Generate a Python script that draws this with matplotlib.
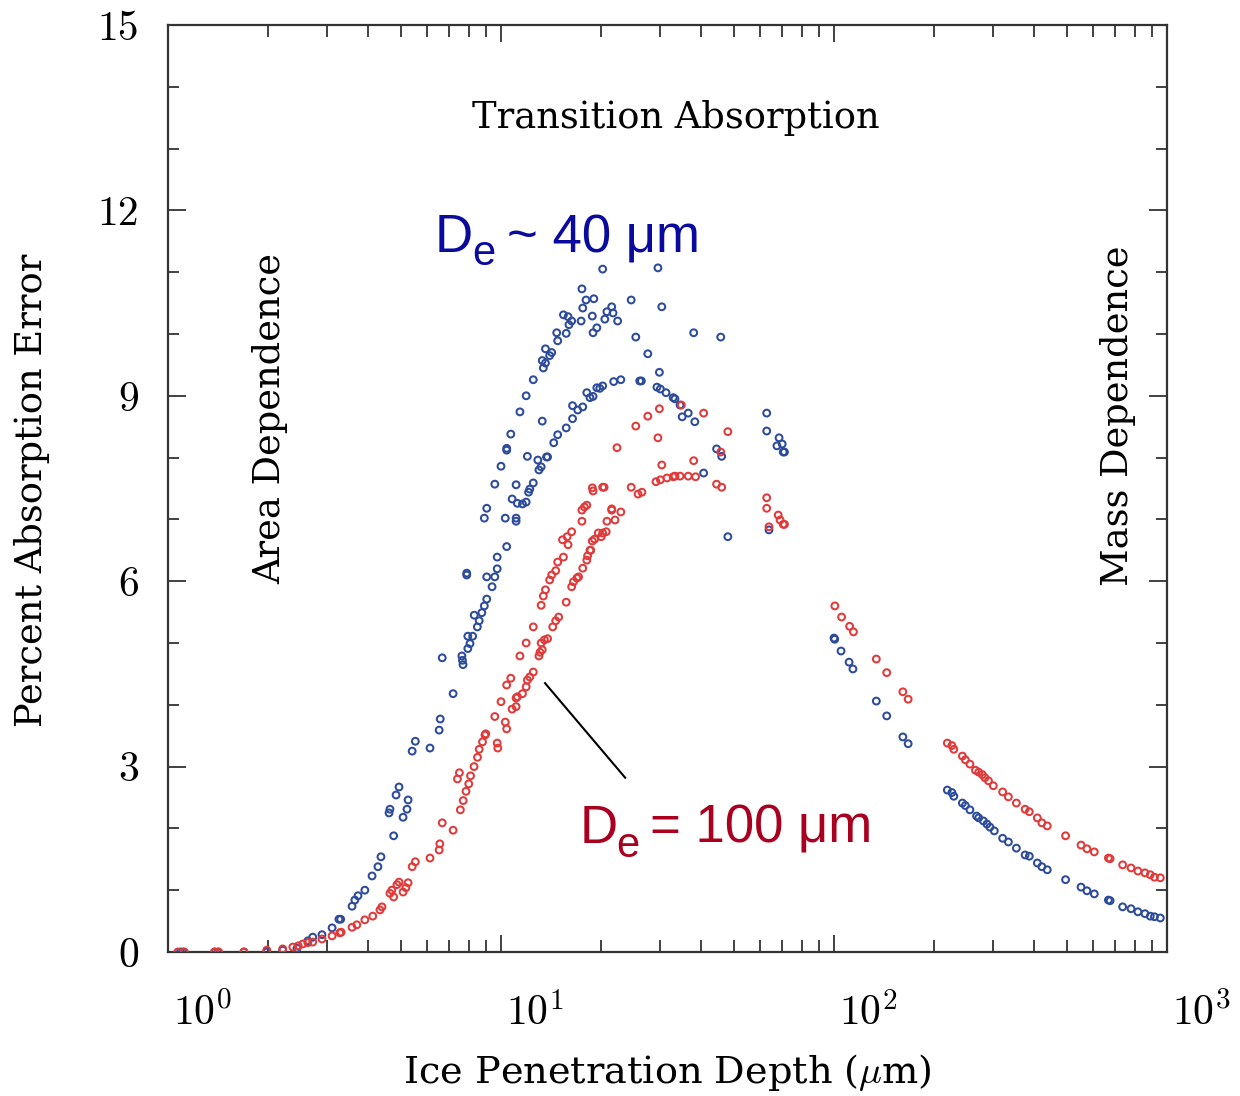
import matplotlib
matplotlib.use('Agg')
import matplotlib.pyplot as plt
import matplotlib.transforms as mtransforms
from matplotlib.ticker import FixedLocator, NullFormatter

plt.rcParams['mathtext.fontset'] = 'cm'

# D_e ~ 40 um (blue)
blue_x = [1.09, 1.11, 1.38, 1.41, 1.69, 1.98, 2.21, 2.44, 2.63, 2.72, 2.90, 3.11, 3.26, 3.30,
          3.57, 3.64, 3.72, 3.90, 4.10, 4.27, 4.36, 4.76, 4.61, 4.64, 4.84, 4.94, 5.08, 5.22,
          5.26, 5.41, 5.53, 6.12, 6.52, 6.57, 7.18, 6.66, 7.69, 7.66, 7.63, 7.95, 8.07, 7.95,
          8.22, 8.49, 8.60, 8.31, 8.76, 8.91, 9.06, 9.40, 9.06, 9.58, 9.74, 9.74, 7.89, 7.89,
          10.4, 8.91, 9.06, 10.3, 11.1, 11.1, 10.8, 11.2, 11.6, 11.9, 9.58, 11.1, 12.5, 12.1,
          12.2, 10.0, 12.0, 12.9, 13.2, 13.0, 13.7, 13.8, 10.4, 10.4, 10.7, 11.4, 11.9, 12.5,
          13.3, 13.4, 13.6, 13.3, 14.0, 14.2, 13.6, 14.8, 14.7, 15.7, 16.0, 16.3, 15.9, 15.4,
          17.4, 17.6, 18.0, 19.0, 17.5, 20.2, 18.8, 19.4, 18.9, 20.5, 20.8, 21.5, 21.7, 22.4,
          24.6, 25.4, 27.6, 29.6, 30.4, 37.9, 45.7,
          14.4, 14.8, 15.7, 16.4, 16.4, 17.0, 17.6, 18.1, 18.5, 18.9, 19.4, 19.8, 20.2, 21.8,
          22.9, 26.1, 26.4, 29.9, 29.4, 30.1, 31.3, 32.9, 33.3, 34.5, 35.0, 36.5, 38.2, 44.4,
          46.0, 40.6, 48.0,
          62.8, 62.8, 68.4, 69.9, 67.4, 70.4, 71.0, 63.8,
          100, 100.5, 105, 111, 114, 134, 144, 161, 167, 219, 226, 229, 243, 248, 256, 268,
          272, 281, 288, 294, 303, 321, 334, 353, 375, 386, 408, 421, 437, 496, 552, 575, 605,
          667, 675, 736, 780, 818, 859, 891, 917, 955]
blue_y = [0, 0, 0, 0, 0, 0, 0.03, 0.06, 0.18, 0.24, 0.28, 0.39, 0.53, 0.53,
          0.74, 0.84, 0.91, 1.0, 1.23, 1.38, 1.54, 1.88, 2.25, 2.31, 2.54, 2.67, 2.18, 2.31,
          2.46, 3.25, 3.41, 3.30, 3.59, 3.77, 4.18, 4.76, 4.65, 4.72, 4.79, 4.91, 4.99, 5.11,
          5.11, 5.26, 5.36, 5.45, 5.49, 5.60, 5.71, 5.91, 6.07, 6.07, 6.20, 6.39, 6.13, 6.10,
          6.56, 7.02, 7.18, 7.02, 6.97, 7.02, 7.33, 7.26, 7.25, 7.28, 7.57, 7.56, 7.59, 7.44,
          7.49, 7.86, 8.02, 7.96, 7.85, 7.80, 8.01, 8.01, 8.12, 8.15, 8.38, 8.74, 9.0, 9.26,
          8.59, 9.45, 9.53, 9.57, 9.65, 9.70, 9.76, 9.89, 10.02, 10.01, 10.15, 10.21, 10.28, 10.31,
          10.21, 10.42, 10.55, 10.57, 10.73, 11.05, 10.29, 10.10, 10.02, 10.24, 10.36, 10.44, 10.34, 10.21,
          10.55, 9.95, 9.68, 11.07, 10.44, 10.02, 9.95,
          8.24, 8.37, 8.48, 8.63, 8.84, 8.77, 8.82, 9.05, 8.97, 8.99, 9.13, 9.12, 9.16, 9.23,
          9.26, 9.24, 9.24, 9.38, 9.14, 9.11, 9.05, 8.97, 8.95, 8.85, 8.66, 8.72, 8.58, 8.14,
          8.02, 7.75, 6.72,
          8.72, 8.43, 8.32, 8.22, 8.19, 8.09, 8.09, 6.83,
          5.08, 5.06, 4.87, 4.69, 4.58, 4.06, 3.82, 3.48, 3.37, 2.62, 2.58, 2.52, 2.41, 2.37, 2.30, 2.20,
          2.17, 2.12, 2.07, 2.02, 1.96, 1.84, 1.78, 1.68, 1.57, 1.55, 1.44, 1.38, 1.33, 1.17, 1.05, 0.99, 0.94,
          0.84, 0.83, 0.73, 0.70, 0.65, 0.62, 0.58, 0.57, 0.55]

# D_e = 100 um (red)
red_x = [1.07, 1.12, 1.38, 1.42, 1.69, 1.98, 2.21, 2.37, 2.46, 2.54, 2.63, 2.72, 2.90, 3.11,
         3.28, 3.31, 3.57, 3.69, 3.90, 4.12, 4.33, 4.39, 4.64, 4.70, 4.76, 4.87, 4.94, 5.08,
         5.18, 5.26, 5.41, 5.53, 6.12, 6.52, 6.55, 6.66, 7.18, 7.55,
         7.7, 7.85, 8.0, 8.1, 7.4, 7.5, 8.3, 8.5, 8.6, 8.8,
         8.95, 9.0, 9.74, 9.78, 9.58, 10.0, 10.3, 10.4, 10.8, 11.1, 11.1, 11.2, 11.6, 11.9,
         12.0, 12.2, 12.5, 10.4, 10.7, 11.4, 11.9, 12.5, 13.0, 13.1, 13.3, 13.2, 13.5, 13.8,
         14.3, 14.6, 14.9, 15.7, 13.2, 13.4, 13.6, 14.0, 14.2, 14.6, 14.8, 15.4, 16.3, 16.5,
         16.9, 17.1, 17.6, 18.1, 18.2, 18.5, 18.8, 18.6, 19.1, 19.6, 20.0, 20.2, 20.7, 20.8,
         21.5, 22.0, 22.9, 15.3, 15.8, 15.9, 16.3, 17.5, 17.8, 18.1, 17.5, 18.8, 18.9, 20.4,
         20.2, 24.6, 25.8, 26.5, 21.5,
         22.3, 25.4, 27.6, 29.9, 29.6, 34.8, 40.6, 48.0, 45.7, 30.4, 37.9, 29.2, 30.1, 31.5,
         32.9, 33.3, 34.5, 36.5, 38.4, 44.4, 46.0,
         62.8, 62.8, 68.0, 68.9, 70.4, 71.0, 63.8,
         100.6, 105.4, 111.4, 114.4, 134, 144, 161, 167, 219, 226, 229, 243, 248, 256, 266,
         272, 279, 284, 291, 301, 321, 334, 353, 375, 386, 408, 421, 437, 496, 552, 575, 605,
         667, 675, 736, 780, 818, 859, 891, 917, 955]
red_y = [0, 0, 0, 0, 0, 0.03, 0.05, 0.08, 0.10, 0.13, 0.15, 0.16, 0.21, 0.26,
         0.31, 0.32, 0.40, 0.44, 0.52, 0.58, 0.68, 0.73, 0.95, 1.0, 0.89, 1.09, 1.13, 0.97,
         1.04, 1.12, 1.38, 1.46, 1.52, 1.65, 1.75, 2.09, 1.97, 2.30,
         2.45, 2.6, 2.72, 2.85, 2.80, 2.90, 3.0, 3.15, 3.28, 3.4,
         3.51, 3.53, 3.38, 3.30, 3.81, 4.05, 3.72, 3.61, 3.93, 3.97, 4.11, 4.13, 4.18, 4.29,
         4.40, 4.45, 4.53, 4.32, 4.43, 4.79, 5.0, 5.26, 4.79, 4.85, 4.89, 5.0, 5.05, 5.07,
         5.26, 5.36, 5.42, 5.66, 5.61, 5.76, 5.86, 6.02, 6.10, 6.17, 6.31, 6.39, 5.91, 5.99,
         6.05, 6.07, 6.21, 6.34, 6.41, 6.50, 6.65, 6.50, 6.68, 6.78, 6.72, 6.78, 6.80, 6.97,
         7.15, 6.99, 7.12, 6.67, 6.72, 6.59, 6.80, 7.15, 7.20, 7.23, 6.97, 7.51, 7.46, 7.52,
         7.52, 7.52, 7.41, 7.44, 7.17,
         8.16, 8.51, 8.67, 8.79, 8.32, 8.85, 8.72, 8.42, 8.09, 7.88, 7.95, 7.61, 7.64, 7.67,
         7.69, 7.70, 7.70, 7.70, 7.69, 7.57, 7.52,
         7.35, 7.18, 7.07, 6.99, 6.92, 6.92, 6.88,
         5.60, 5.42, 5.27, 5.18, 4.74, 4.52, 4.21, 4.09, 3.38, 3.34, 3.28, 3.17, 3.11, 3.04, 2.94,
         2.91, 2.87, 2.82, 2.77, 2.69, 2.59, 2.51, 2.41, 2.31, 2.27, 2.17, 2.09, 2.04, 1.88, 1.73, 1.67, 1.62,
         1.52, 1.51, 1.41, 1.36, 1.31, 1.28, 1.25, 1.21, 1.20]

# pointer line to the red label
pointer_x = [13.56, 23.6]
pointer_y = [4.35, 2.82]

x_major = [1, 10, 100, 1000]
x_labels = ['$10^{0}$', '$10^{1}$', '$10^{2}$', '$10^{3}$']
x_minor = [m * d for d in [1, 10, 100] for m in range(2, 10)]
y_major = [0, 3, 6, 9, 12, 15]
y_minor = list(range(0, 16))

blue_c = '#2d4b9b'
red_c = '#e03a3a'
axis_c = '#333333'
serif = 'DejaVu Serif'

fig = plt.figure(figsize=(12.4, 10.96), dpi=100)
ax = fig.add_axes([0.1355, 0.1314, 0.8056, 0.8458])

ax.scatter(blue_x, blue_y, s=24, facecolors='none', edgecolors=blue_c, linewidths=1.45, zorder=3)
ax.scatter(red_x, red_y, s=24, facecolors='none', edgecolors=red_c, linewidths=1.45, zorder=4)
ax.plot(pointer_x, pointer_y, color='black', lw=1.5, zorder=5)

ax.set_xscale('log')
ax.set_xlim(1, 1000)
ax.set_ylim(0, 15)

ax.xaxis.set_major_locator(FixedLocator(x_major))
ax.xaxis.set_minor_locator(FixedLocator(x_minor))
ax.xaxis.set_minor_formatter(NullFormatter())
ax.set_xticklabels(x_labels)
ax.yaxis.set_major_locator(FixedLocator(y_major))
ax.yaxis.set_minor_locator(FixedLocator(y_minor))
ax.set_yticklabels([str(v) for v in y_major], fontfamily='cmr10')

for sp in ax.spines.values():
    sp.set_color(axis_c)
    sp.set_linewidth(1.6)

ax.tick_params(which='both', direction='in', top=True, right=True, color=axis_c, width=1.3)
ax.tick_params(axis='y', which='major', length=13, pad=21, labelsize=30)
ax.tick_params(axis='y', which='minor', length=8)
ax.tick_params(axis='x', which='major', length=12, pad=29, labelsize=30)
ax.tick_params(axis='x', which='minor', length=8.5)

# labels in the reference sit just right of their ticks
shift = mtransforms.ScaledTranslation(5 / 100, 0, fig.dpi_scale_trans)
for lab in ax.get_xticklabels():
    lab.set_horizontalalignment('left')
    lab.set_transform(lab.get_transform() + shift)

ax.set_xlabel('Ice Penetration Depth ($\\mu$m)', fontfamily=serif, fontsize=27.5)
ax.xaxis.set_label_coords(0.4995, -0.108)
ax.set_ylabel('Percent Absorption Error', fontfamily=serif, fontsize=26.5)
ax.yaxis.set_label_coords(-0.118, 0.498)

ax.text(0.5085, 0.8997, 'Transition Absorption', transform=ax.transAxes, fontfamily=serif,
        fontsize=26.5, ha='center', va='center')
ax.text(0.102, 0.575, 'Area Dependence', transform=ax.transAxes, fontfamily=serif,
        fontsize=26.5, ha='center', va='center', rotation=90)
ax.text(0.951, 0.578, 'Mass Dependence', transform=ax.transAxes, fontfamily=serif,
        fontsize=26.5, ha='center', va='center', rotation=90)

sans = 'Liberation Sans'
navy = '#0a0a9e'
maroon = '#a8001e'
ax.text(0.2673, 0.755, 'D', transform=ax.transAxes, fontfamily=sans, fontsize=38,
        color=navy, ha='left', va='baseline')
ax.text(0.3043, 0.741, 'e', transform=ax.transAxes, fontfamily=sans, fontsize=30,
        color=navy, ha='left', va='baseline')
ax.text(0.3393, 0.755, '~ 40 μm', transform=ax.transAxes, fontfamily=sans, fontsize=38,
        color=navy, ha='left', va='baseline')
ax.text(0.4124, 0.1176, 'D', transform=ax.transAxes, fontfamily=sans, fontsize=38,
        color=maroon, ha='left', va='baseline')
ax.text(0.4484, 0.1025, 'e', transform=ax.transAxes, fontfamily=sans, fontsize=30,
        color=maroon, ha='left', va='baseline')
ax.text(0.4825, 0.1176, '= 100 μm', transform=ax.transAxes, fontfamily=sans, fontsize=38,
        color=maroon, ha='left', va='baseline')

fig.savefig('out.png', dpi=100)
